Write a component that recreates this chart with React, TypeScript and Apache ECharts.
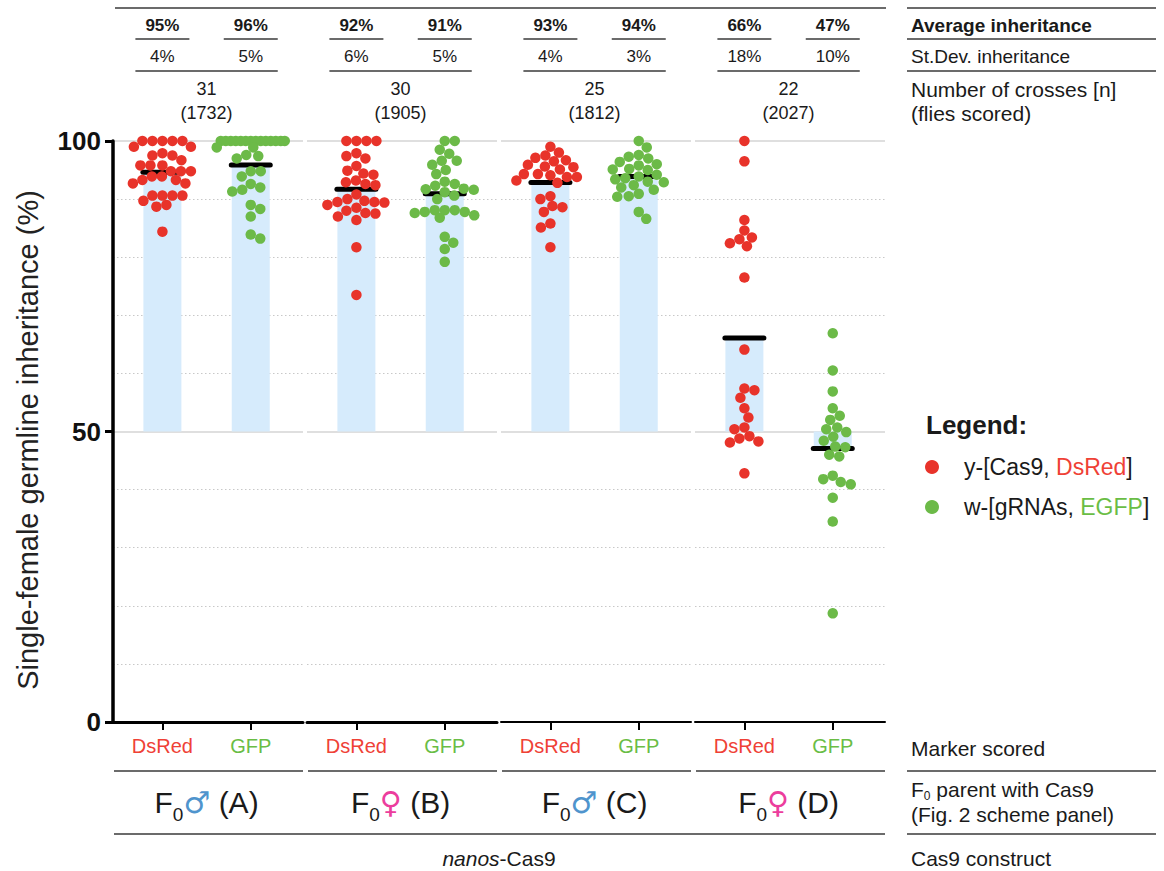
import React, { useEffect, useRef } from 'react';
import * as echarts from 'echarts';

// ---------------- data ----------------
const groupNames = ['A', 'B', 'C', 'D'];
const parentSex = ['♂', '♀', '♂', '♀'];
const markerNames = ['DsRed', 'GFP'];

const dsRedA = [100, 100, 100, 100, 100, 99, 99, 97.9, 97.5, 97.5, 96.7, 95.8, 95.8, 95.8, 94.8, 94.8, 94.8, 93.9, 93.9, 93.3, 93.3, 92.7, 92.7, 90.6, 90.6, 90.6, 90.6, 89.7, 89.0, 88.7, 84.4];
const gfpA = [100, 100, 100, 100, 100, 100, 100, 100, 100, 100, 100, 100, 100, 100, 98.9, 98.9, 97.6, 97.4, 97.0, 94.8, 94.8, 93.9, 92.6, 92.0, 91.6, 91.3, 89.0, 88.3, 87.0, 83.9, 83.2];
const dsRedB = [100, 100, 100, 100, 97.9, 97.4, 97.0, 95.7, 94.9, 94.4, 94.2, 93.2, 92.9, 92.6, 92.4, 90.8, 90.0, 89.7, 89.5, 89.5, 89.4, 89.0, 88.5, 88.0, 87.6, 87.5, 87.0, 86.4, 81.7, 73.5];
const gfpB = [100, 100, 98.5, 97.8, 96.6, 96.6, 95.9, 95.0, 94.3, 93.0, 92.6, 92.3, 91.8, 91.7, 91.6, 91.2, 90.6, 90.0, 88.1, 88.1, 88.1, 87.8, 87.8, 87.6, 87.2, 86.8, 83.5, 82.5, 81.4, 79.2];
const dsRedC = [99.0, 98.0, 97.5, 97.1, 96.7, 96.5, 95.9, 95.6, 95.5, 95.1, 94.3, 94.3, 94.1, 93.8, 93.8, 93.2, 92.8, 90.5, 90.0, 88.8, 88.6, 87.8, 85.8, 85.1, 81.7];
const gfpC = [100, 98.9, 97.6, 97.3, 97.0, 96.4, 96.0, 95.8, 95.2, 95.1, 95.0, 94.2, 93.9, 93.6, 93.4, 93.0, 92.9, 92.4, 92.0, 91.6, 90.9, 90.5, 90.4, 87.8, 86.6];
const dsRedD = [100, 96.5, 86.4, 84.6, 83.4, 83.1, 82.4, 81.9, 76.5, 64.1, 57.4, 57.1, 55.8, 54.0, 52.4, 50.7, 50.4, 49.2, 48.8, 48.3, 48.1, 42.8];
const gfpD = [66.9, 60.5, 56.9, 54.0, 52.7, 52.0, 50.7, 50.4, 49.9, 49.1, 48.4, 47.4, 47.3, 46.0, 45.7, 42.4, 41.8, 41.3, 40.9, 38.6, 34.5, 18.7];
const seriesValues = [dsRedA, gfpA, dsRedB, gfpB, dsRedC, gfpC, dsRedD, gfpD];

const avgLabels = ['95%', '96%', '92%', '91%', '93%', '94%', '66%', '47%'];
const sdLabels = ['4%', '5%', '6%', '5%', '4%', '3%', '18%', '10%'];
const crossLabels = ['31', '30', '25', '22'];
const fliesLabels = ['(1732)', '(1905)', '(1812)', '(2027)'];
const yTickValues = [0, 50, 100];

// ---------------- layout / style ----------------
const W = 1164;
const H = 871;
const GRID_LEFT = [113, 307, 501, 695];
const GRID_W = 190;
const GRID_TOP = 141;
const GRID_H = 581;
const XPOS = [0.52, 1.45];
const PX_X = GRID_W / 2;
const PX_Y = GRID_H / 100;
const FONT = '"Liberation Sans", Arial, Helvetica, sans-serif';
const RED = '#e8332a';
const GREEN = '#6cba48';
const RED_T = '#ef4136';
const GREEN_T = '#6abd45';
const BLUE_SYM = '#4f94cd';
const PINK_SYM = '#ec3d9d';
const BAR_FILL = '#d6ebfc';
const TXT = '#1a1a1a';
const RULE = '#3a3a3a';
const DOT = 10.5;

function swarm(values: number[], dist = 10, maxHalf = 34): number[] {
  const order = values.map((_, i) => i).sort((a, b) => values[b] - values[a]);
  const placed: { x: number; y: number }[] = [];
  const offs = new Array(values.length).fill(0);
  let balance = 0;
  for (const i of order) {
    const y = values[i] * PX_Y;
    let best = 0;
    let bestScore = -Infinity;
    let found = false;
    for (let s = 0; s <= maxHalf + 1e-9; s += 0.5) {
      const cands = s === 0 ? [0] : balance > 0 ? [-s, s] : [s, -s];
      for (const c of cands) {
        let minD = Infinity;
        for (const p of placed) {
          const d = Math.hypot(p.x - c, p.y - y);
          if (d < minD) minD = d;
        }
        if (minD >= dist) {
          best = c;
          found = true;
          break;
        }
        if (minD > bestScore + 1e-6) {
          bestScore = minD;
          best = c;
        }
      }
      if (found) break;
    }
    offs[i] = best;
    placed.push({ x: best, y });
    balance += Math.sign(best);
  }
  return offs;
}

const catX = (c: number) => GRID_LEFT[Math.floor(c / 2)] + XPOS[c % 2] * PX_X;
const groupX = (g: number) => (catX(2 * g) + catX(2 * g + 1)) / 2;

function txt(x: number, y: number, text: string, size: number, opts: any = {}) {
  return {
    type: 'text',
    x,
    y,
    silent: true,
    rotation: opts.rotation || 0,
    style: {
      text,
      fontSize: size,
      fontFamily: FONT,
      fontWeight: opts.bold ? 'bold' : 'normal',
      fill: opts.fill || TXT,
      align: opts.align || 'center',
      verticalAlign: 'middle',
      rich: opts.rich,
    },
  };
}
function hline(x1: number, x2: number, y: number, w = 1.5) {
  return { type: 'line', silent: true, shape: { x1, y1: y, x2, y2: y }, style: { stroke: RULE, lineWidth: w } };
}

function buildOption() {
  const grid = GRID_LEFT.map((l) => ({ left: l, top: GRID_TOP, width: GRID_W, height: GRID_H, containLabel: false, outerBoundsMode: 'none' }));
  const xAxis = GRID_LEFT.map((_, g) => ({
    type: 'value',
    gridIndex: g,
    min: 0,
    max: 2,
    axisLine: { show: true, onZero: false, lineStyle: { color: '#000', width: g < 2 ? 3 : 2 } },
    axisTick: { show: true, customValues: XPOS, length: 8, lineStyle: { color: '#000', width: 2 } },
    axisLabel: {
      show: true,
      customValues: XPOS,
      margin: 14,
      formatter: (v: number) => (v < 1 ? '{r|' + markerNames[0] + '}' : '{g|' + markerNames[1] + '}'),
      rich: {
        r: { color: RED_T, fontSize: 20, fontFamily: FONT },
        g: { color: GREEN_T, fontSize: 20, fontFamily: FONT },
      },
    },
    splitLine: { show: false },
  }));
  const yAxis = GRID_LEFT.map((_, g) => ({
    type: 'value',
    gridIndex: g,
    min: 0,
    max: 100,
    interval: 50,
    axisLine: { show: g === 0, onZero: false, lineStyle: { color: '#000', width: 3.5 } },
    axisTick: { show: g === 0, customValues: yTickValues, length: 8, lineStyle: { color: '#000', width: 3 } },
    axisLabel: { show: g === 0, customValues: yTickValues, margin: 12, fontSize: 26, fontWeight: 'bold', color: '#111', fontFamily: FONT },
    splitLine: { show: true, lineStyle: { color: '#d4d4d4', width: 1.5 } },
    minorTick: { show: false, splitNumber: 5 },
    minorSplitLine: { show: true, lineStyle: { color: '#c8c8c8', width: 1, type: [1.5, 2.5] } },
  }));

  const series: any[] = [];
  seriesValues.forEach((vals, c) => {
    const g = Math.floor(c / 2);
    const m = c % 2;
    const mean = vals.reduce((a, b) => a + b, 0) / vals.length;
    series.push({
      type: 'custom',
      xAxisIndex: g,
      yAxisIndex: g,
      z: 2,
      silent: true,
      data: [[XPOS[m], mean]],
      renderItem: (params: any, api: any) => {
        const x = api.value(0);
        const mv = api.value(1);
        const base = api.coord([x, 50]);
        const top = api.coord([x, mv]);
        const bw = api.size([0.4, 0])[0];
        return {
          type: 'group',
          children: [
            {
              type: 'rect',
              shape: { x: base[0] - bw / 2, y: Math.min(base[1], top[1]), width: bw, height: Math.abs(base[1] - top[1]) },
              style: { fill: BAR_FILL },
            },
            {
              type: 'line',
              shape: { x1: top[0] - bw / 2 - 0.5, y1: top[1], x2: top[0] + bw / 2 + 0.5, y2: top[1] },
              style: { stroke: '#000', lineWidth: 5, lineCap: 'round' },
            },
          ],
        };
      },
    });
    const offs = swarm(vals);
    series.push({
      type: 'scatter',
      name: markerNames[m],
      xAxisIndex: g,
      yAxisIndex: g,
      z: 3,
      silent: true,
      symbol: 'circle',
      symbolSize: DOT,
      itemStyle: { color: m === 0 ? RED : GREEN, opacity: 1 },
      data: vals.map((v, i) => [XPOS[m] + offs[i] / PX_X, v]),
    });
  });

  const gr: any[] = [];
  // top table
  gr.push(hline(115, 886, 8));
  gr.push(hline(907, 1156, 8));
  for (let c = 0; c < 8; c++) {
    const x = catX(c);
    gr.push(txt(x, 25, avgLabels[c], 17, { bold: true }));
    gr.push(hline(x - 27, x + 27, 39));
    gr.push(txt(x, 56, sdLabels[c], 17));
  }
  for (let g = 0; g < 4; g++) {
    gr.push(hline(catX(2 * g) - 27, catX(2 * g + 1) + 27, 71));
    gr.push(txt(groupX(g), 89, crossLabels[g], 18));
    gr.push(txt(groupX(g), 113, fliesLabels[g], 18));
  }
  gr.push(txt(911, 25, 'Average inheritance', 19, { bold: true, align: 'left' }));
  gr.push(hline(907, 1156, 39));
  gr.push(txt(911, 56, 'St.Dev. inheritance', 19, { align: 'left' }));
  gr.push(hline(907, 1156, 71));
  gr.push(txt(911, 89, 'Number of crosses [n]', 21, { align: 'left' }));
  gr.push(txt(911, 113, '(flies scored)', 21, { align: 'left' }));

  // y axis title
  gr.push(txt(28, 440, 'Single-female germline inheritance (%)', 29, { rotation: Math.PI / 2, fill: '#222' }));

  // bottom table
  for (let g = 0; g < 4; g++) {
    gr.push(hline(GRID_LEFT[g] + 1, GRID_LEFT[g] + GRID_W, 771));
    const sym = parentSex[g] === '♂' ? 'm' : 'w';
    gr.push(
      txt(groupX(g), 802, '{f|F}{s|0}{' + sym + '|' + parentSex[g] + '}{f| (' + groupNames[g] + ')}', 30, {
        rich: {
          f: { fontSize: 30, lineHeight: 44, fontFamily: FONT, fill: TXT },
          s: { fontSize: 19, lineHeight: 19, verticalAlign: 'bottom', fontFamily: FONT, fill: TXT },
          m: { fontSize: 30, lineHeight: 44, fontFamily: '"DejaVu Sans", sans-serif', fill: BLUE_SYM },
          w: { fontSize: 30, lineHeight: 44, fontFamily: '"DejaVu Sans", sans-serif', fill: PINK_SYM },
        },
      })
    );
  }
  gr.push(hline(114, 885, 834));
  gr.push(
    txt(499, 858, '{i|nanos}{n|-Cas9}', 21, {
      rich: {
        i: { fontSize: 21, fontStyle: 'italic', fontFamily: FONT, fill: TXT },
        n: { fontSize: 21, fontFamily: FONT, fill: TXT },
      },
    })
  );
  gr.push(txt(911, 748, 'Marker scored', 21, { align: 'left' }));
  gr.push(hline(907, 1156, 771));
  gr.push(
    txt(911, 789, '{t|F}{s|0}{t| parent with Cas9}', 21, {
      align: 'left',
      rich: {
        t: { fontSize: 21, lineHeight: 26, fontFamily: FONT, fill: TXT },
        s: { fontSize: 12, lineHeight: 12, verticalAlign: 'bottom', fontFamily: FONT, fill: TXT },
      },
    })
  );
  gr.push(txt(911, 814, '(Fig. 2 scheme panel)', 21, { align: 'left' }));
  gr.push(hline(907, 1156, 834));
  gr.push(txt(911, 858, 'Cas9 construct', 21, { align: 'left' }));

  // legend
  gr.push(txt(926, 425, 'Legend:', 26, { bold: true, align: 'left' }));
  gr.push({ type: 'circle', silent: true, shape: { cx: 932, cy: 467, r: 7 }, style: { fill: RED } });
  gr.push({ type: 'circle', silent: true, shape: { cx: 932, cy: 507, r: 7 }, style: { fill: GREEN } });
  gr.push(
    txt(964, 467, 'y-[Cas9, {r|DsRed}]', 23, {
      align: 'left',
      rich: { r: { fontSize: 23, fontFamily: FONT, fill: RED_T } },
    })
  );
  gr.push(
    txt(964, 507, 'w-[gRNAs, {g|EGFP}]', 23, {
      align: 'left',
      rich: { g: { fontSize: 23, fontFamily: FONT, fill: GREEN_T } },
    })
  );

  return {
    animation: false,
    backgroundColor: '#ffffff',
    textStyle: { fontFamily: FONT },
    grid,
    xAxis,
    yAxis,
    series,
    graphic: { elements: gr },
  };
}

export default function App() {
  const ref = useRef<HTMLDivElement>(null);
  useEffect(() => {
    document.body.style.margin = '0';
    if (!ref.current) return;
    const chart = echarts.init(ref.current, undefined, { renderer: 'svg' });
    chart.setOption(buildOption() as any);
    return () => chart.dispose();
  }, []);
  return <div ref={ref} style={{ width: W, height: H }} />;
}
